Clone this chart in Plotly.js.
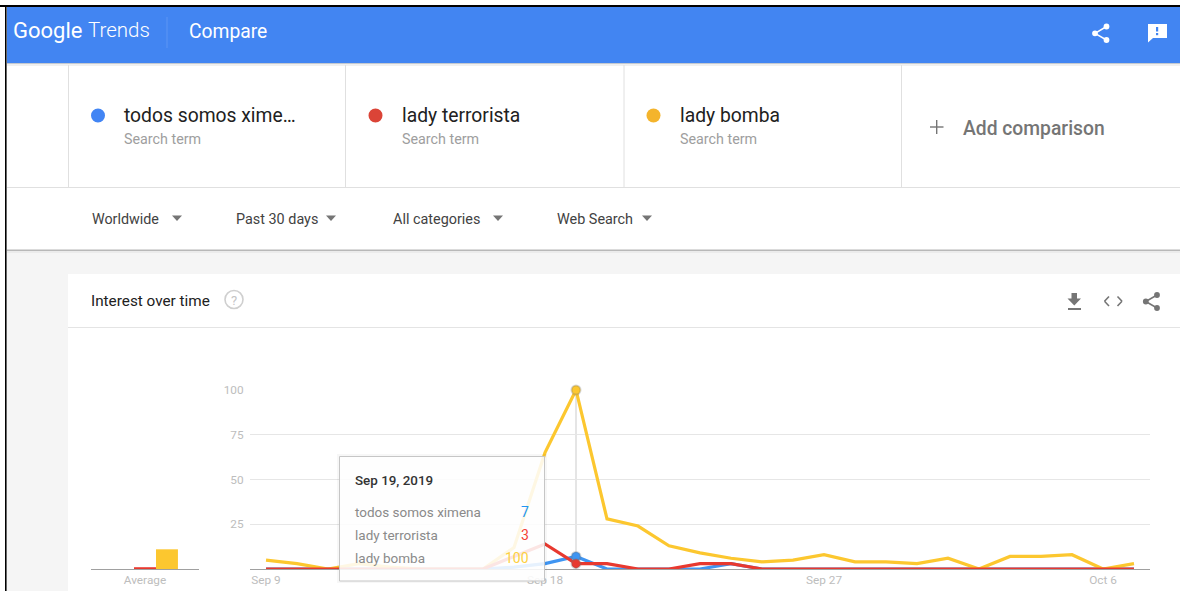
<!DOCTYPE html>
<html>
<head>
<meta charset="utf-8">
<title>Interest over time</title>
<script src="https://cdn.plot.ly/plotly-3.0.1.min.js"></script>
<style>
  html, body { margin: 0; padding: 0; background: #fff; overflow: hidden; }
  #chart { width: 1180px; height: 591px; }
</style>
</head>
<body>
<div id="chart"></div>
<script>
// Daily search interest, Sep 9 to Oct 7 2019
const days = ['2019-09-09','2019-09-10','2019-09-11','2019-09-12','2019-09-13','2019-09-14','2019-09-15','2019-09-16','2019-09-17','2019-09-18','2019-09-19','2019-09-20','2019-09-21','2019-09-22','2019-09-23','2019-09-24','2019-09-25','2019-09-26','2019-09-27','2019-09-28','2019-09-29','2019-09-30','2019-10-01','2019-10-02','2019-10-03','2019-10-04','2019-10-05','2019-10-06','2019-10-07'];
const todosSomosXimena = [0,0,0,0,0,0,0,0,1,3,7,0,0,0,0,3,0,0,0,0,0,0,0,0,0,0,0,0,0];
const ladyTerrorista   = [0,0,0,0,0,0,0,0,7,14,3,3,0,0,3,3,0,0,0,0,0,0,0,0,0,0,0,0,0];
const ladyBomba        = [5,3,0,3,1,0,0,0,12,65,100,28,24,13,9,6,4,5,8,4,4,3,6,0,7,7,8,0,3];

const averages = [0, 1, 11];
const seriesNames = ['todos somos ximena', 'lady terrorista', 'lady bomba'];
const averageLabel = 'Average';

const xTickDays = ['2019-09-09','2019-09-18','2019-09-27','2019-10-06'];
const xTickLabels = ['Sep 9','Sep 18','Sep 27','Oct 6'];
const yTicks = [25, 50, 75, 100];

const hoverIndex = 10;
const hoverLabel = 'Sep 19, 2019';

const LINE = { blue: '#3f95f2', red: '#e8392f', yellow: '#fcc72f' };
const DOT  = { blue: '#4285f4', red: '#db4437', yellow: '#f4b42c' };
const FONT = 'Roboto, Arial, sans-serif';
const W = 1180, H = 591;

// Page furniture is positioned in screen pixels, converted to paper units
const px = x => x / W;
const py = y => 1 - y / H;

function rect(x0, y0, x1, y1, fill, layer) {
  return { type: 'rect', xref: 'paper', yref: 'paper', x0: px(x0), x1: px(x1), y0: py(y0), y1: py(y1),
           fillcolor: fill, line: { width: 0 }, layer: layer || 'below' };
}
function hline(x0, x1, y, color, width) {
  return { type: 'line', xref: 'paper', yref: 'paper', x0: px(x0), x1: px(x1), y0: py(y), y1: py(y),
           line: { color: color, width: width || 1 }, layer: 'below' };
}
function vline(x, y0, y1, color, width) {
  return { type: 'line', xref: 'paper', yref: 'paper', x0: px(x), x1: px(x), y0: py(y0), y1: py(y1),
           line: { color: color, width: width || 1 }, layer: 'below' };
}
function seg(x0, y0, x1, y1, color, width) {
  return { type: 'line', xref: 'paper', yref: 'paper', x0: px(x0), x1: px(x1), y0: py(y0), y1: py(y1),
           line: { color: color, width: width }, layer: 'below' };
}
function disc(cx, cy, r, fill, stroke, strokeWidth) {
  return { type: 'circle', xref: 'paper', yref: 'paper', x0: px(cx - r), x1: px(cx + r), y0: py(cy + r), y1: py(cy - r),
           fillcolor: fill, line: { color: stroke || fill, width: strokeWidth === undefined ? 0 : strokeWidth }, layer: 'below' };
}
function poly(points, fill) {
  const d = points.map((p, i) => (i ? 'L' : 'M') + px(p[0]) + ',' + py(p[1])).join(' ') + ' Z';
  return { type: 'path', xref: 'paper', yref: 'paper', path: d, fillcolor: fill, line: { width: 0 }, layer: 'below' };
}
function label(x, y, text, size, color, opts) {
  const o = opts || {};
  return { xref: 'paper', yref: 'paper', x: px(x), y: py(y), text: text, showarrow: false,
           xanchor: o.anchor || 'left', yanchor: 'middle', borderpad: 0, borderwidth: 0,
           font: { family: FONT, size: size, color: color, weight: o.weight || 400 } };
}
function shareIcon(ax, ay, bx, by, cx, cy, r, w, color) {
  return [seg(bx, by, ax, ay, color, w), seg(bx, by, cx, cy, color, w),
          disc(ax, ay, r, color), disc(bx, by, r, color), disc(cx, cy, r, color)];
}
function caret(cx, cy) {
  return poly([[cx - 5, cy - 2.5], [cx + 5, cy - 2.5], [cx, cy + 3]], '#757575');
}

const shapes = [
  // Frame, header and page background
  rect(7, 250, W, H, '#f5f5f5'),
  rect(7, 7, W, 250, '#ffffff'),
  rect(0, 5, W, 7, '#000000'),
  rect(5, 5, 6.6, H, '#000000'),
  rect(7, 7, W, 63, '#4285f2'),
  rect(7, 63, W, 64, '#c4c9d0'),
  rect(7, 64, W, 66, '#f0f0f0'),
  vline(167, 17, 48, '#5c95f4'),

  // Search term boxes
  vline(68.5, 65, 187, '#e0e0e0'),
  vline(345.5, 65, 187, '#e0e0e0'),
  vline(624, 65, 187, '#e0e0e0'),
  vline(901.5, 65, 187, '#e0e0e0'),
  hline(7, W, 187.5, '#e0e0e0'),
  disc(98, 115.5, 7, DOT.blue),
  disc(375.5, 115.5, 7, DOT.red),
  disc(653.5, 115.5, 7, DOT.yellow),
  seg(930, 127, 943.5, 127, '#757575', 1.4),
  seg(936.7, 120, 936.7, 134, '#757575', 1.4),

  // Filter row
  caret(177, 218),
  caret(331, 218),
  caret(498, 218),
  caret(647, 218),
  rect(7, 249.5, W, 251, '#b8b8b8'),
  rect(7, 251, W, 253, '#ebebeb'),

  // Card
  rect(68, 274, W, H, '#ffffff'),
  hline(68, W, 327.5, '#e4e4e4'),
  disc(234, 299.5, 9, 'rgba(0,0,0,0)', '#cfcfcf', 1.6),

  // Feedback glyph
  poly([[1148, 24], [1167, 24], [1167, 38], [1153, 38], [1148, 42.5]], '#ffffff'),
  rect(1156, 27, 1158.2, 31.5, '#4285f2'),
  rect(1156, 33, 1158.2, 35.2, '#4285f2'),

  // Download glyph
  poly([[1071.5, 293], [1077, 293], [1077, 298.5], [1081, 298.5], [1074.3, 305.5], [1067.5, 298.5], [1071.5, 298.5]], '#757575'),
  rect(1068, 308, 1081, 310, '#757575'),

  // Embed glyph
  seg(1109, 296.5, 1104.5, 301.3, '#757575', 1.6),
  seg(1104.5, 301.3, 1109, 306, '#757575', 1.6),
  seg(1117.5, 296.5, 1122, 301.3, '#757575', 1.6),
  seg(1122, 301.3, 1117.5, 306, '#757575', 1.6),

  // Crosshair at the hovered day
  { type: 'line', xref: 'x', yref: 'y', x0: days[hoverIndex], x1: days[hoverIndex], y0: 0, y1: 100,
    line: { color: '#dcdcdc', width: 1.5 }, layer: 'below' },

  // Tooltip panel sits over the lines
  rect(337, 454, 547, 583, 'rgba(0,0,0,0.03)', 'above'),
  { type: 'rect', xref: 'paper', yref: 'paper', x0: px(339.5), x1: px(544.5), y0: py(581), y1: py(456.5),
    fillcolor: 'rgba(255,255,255,0.87)', line: { color: '#c6c6c6', width: 1 }, layer: 'above' }
].concat(
  shareIcon(1106.5, 26.5, 1095, 33.3, 1106.5, 40, 2.9, 1.5, '#ffffff'),
  shareIcon(1157, 295, 1145.8, 301.5, 1157, 308, 2.9, 1.5, '#757575')
);

const annotations = [
  label(12.5, 30, 'Google', 22, '#ffffff'),
  label(87.5, 30, 'Trends', 20.5, '#ffffff', { weight: 300 }),
  label(189, 31.5, 'Compare', 19.3, '#ffffff'),

  label(124.3, 115.5, 'todos somos xime…', 19.3, '#212121'),
  label(402.2, 115.5, 'lady terrorista', 19.3, '#212121'),
  label(680.2, 115.5, 'lady bomba', 19.3, '#212121'),
  label(124.3, 138.5, 'Search term', 14.3, '#9e9e9e'),
  label(402.2, 138.5, 'Search term', 14.3, '#9e9e9e'),
  label(680.2, 138.5, 'Search term', 14.3, '#9e9e9e'),
  label(963, 128, 'Add comparison', 19.3, '#757575', { weight: 500 }),

  label(92.3, 219, 'Worldwide', 14.3, '#424242'),
  label(236, 219, 'Past 30 days', 14.4, '#424242'),
  label(393, 219, 'All categories', 14.4, '#424242'),
  label(556.8, 219, 'Web Search', 14.4, '#424242'),

  label(90.8, 301, 'Interest over time', 15.3, '#212121'),
  label(234, 300, '?', 13, '#c4c4c4', { anchor: 'center' }),

  label(354.5, 480.5, hoverLabel, 13.4, '#333333', { weight: 500 }),
  label(354.5, 511.5, seriesNames[0], 13.5, '#8a8a8a'),
  label(354.5, 534.5, seriesNames[1], 13.5, '#8a8a8a'),
  label(354.5, 557.5, seriesNames[2], 13.5, '#8a8a8a'),
  label(528.5, 511.5, String(todosSomosXimena[hoverIndex]), 14, '#2196f3', { anchor: 'right' }),
  label(528.5, 534.5, String(ladyTerrorista[hoverIndex]), 14, '#f44336', { anchor: 'right' }),
  label(528.5, 557.5, String(ladyBomba[hoverIndex]), 14, '#fdd03f', { anchor: 'right' })
];

function lineTrace(name, y, color) {
  return { type: 'scatter', mode: 'lines', name: name, x: days, y: y, xaxis: 'x', yaxis: 'y',
           line: { color: color, width: 3.2, shape: 'linear' }, cliponaxis: false, hoverinfo: 'skip' };
}
function hoverDot(y, color) {
  return { type: 'scatter', mode: 'markers', x: [days[hoverIndex]], y: [y[hoverIndex]], xaxis: 'x', yaxis: 'y',
           marker: { color: color, size: 9, line: { color: 'rgba(110,110,110,0.28)', width: 2 } },
           cliponaxis: false, hoverinfo: 'skip', showlegend: false };
}
function averageBar(name, value, color) {
  return { type: 'bar', name: name, x: [averageLabel], y: [value], xaxis: 'x2', yaxis: 'y2',
           marker: { color: color, line: { width: 0 } }, hoverinfo: 'skip' };
}

const traces = [
  averageBar(seriesNames[0], averages[0], LINE.blue),
  averageBar(seriesNames[1], averages[1], LINE.red),
  averageBar(seriesNames[2], averages[2], LINE.yellow),
  lineTrace(seriesNames[0], todosSomosXimena, LINE.blue),
  lineTrace(seriesNames[2], ladyBomba, LINE.yellow),
  lineTrace(seriesNames[1], ladyTerrorista, LINE.red),
  hoverDot(ladyBomba, LINE.yellow),
  hoverDot(todosSomosXimena, LINE.blue),
  hoverDot(ladyTerrorista, LINE.red)
];

const tickFont = { family: FONT, size: 11.8, color: '#bdbdbd' };
const plotTop = py(390), plotBottom = py(569);

const layout = {
  width: W, height: H,
  margin: { l: 0, r: 0, t: 0, b: 0, pad: 0 },
  paper_bgcolor: '#ffffff', plot_bgcolor: 'rgba(0,0,0,0)',
  showlegend: false,
  barmode: 'group', bargap: 0.39, bargroupgap: 0,
  xaxis: {
    type: 'date', domain: [px(250), px(1150)], anchor: 'y',
    range: ['2019-09-08 11:36', '2019-10-07 12:24'],
    tickmode: 'array', tickvals: xTickDays, ticktext: xTickLabels,
    showgrid: false, zeroline: false, showline: true, linecolor: '#a0a0a0', linewidth: 1,
    ticks: '', tickfont: tickFont
  },
  yaxis: {
    domain: [plotBottom, plotTop], anchor: 'x', range: [0, 100],
    tickmode: 'array', tickvals: yTicks, ticktext: yTicks.map(String),
    showgrid: true, gridcolor: '#e6e6e6', gridwidth: 1, zeroline: false, showline: false,
    ticks: 'outside', ticklen: 3, tickcolor: 'rgba(0,0,0,0)', tickfont: tickFont
  },
  xaxis2: {
    type: 'category', domain: [px(91), px(199)], anchor: 'y2',
    showgrid: false, zeroline: false, showline: true, linecolor: '#a0a0a0', linewidth: 1,
    ticks: '', tickfont: tickFont
  },
  yaxis2: {
    domain: [plotBottom, plotTop], anchor: 'x2', range: [0, 100],
    showgrid: false, zeroline: false, showline: false, showticklabels: false, ticks: ''
  },
  shapes: shapes,
  annotations: annotations
};

Plotly.newPlot('chart', traces, layout, { displayModeBar: false, staticPlot: true });
</script>
</body>
</html>
